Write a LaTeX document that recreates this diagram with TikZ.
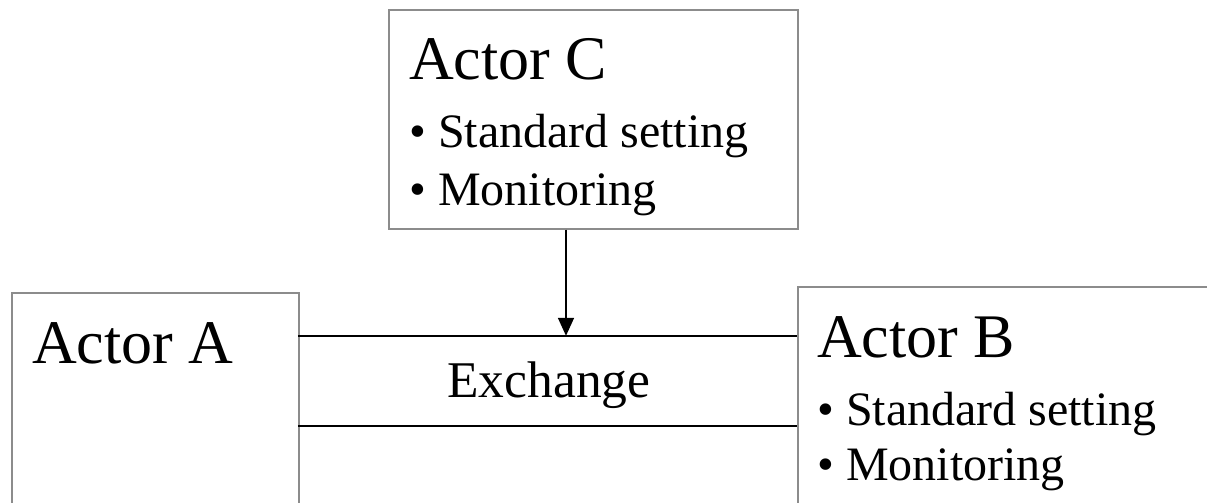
\documentclass[tikz,border=0pt]{standalone}
\usepackage{fontspec}
\setmainfont{Liberation Serif}
\usetikzlibrary{arrows.meta}
\tikzset{
  box/.style={draw=black!45, line width=1.6pt, rectangle, inner sep=0pt, anchor=north west},
  big/.style={anchor=base west, inner sep=0pt, font=\fontsize{62}{74}\selectfont},
  item/.style={anchor=base west, inner sep=0pt, font=\fontsize{48}{58}\selectfont},
  link/.style={line width=1.6pt, black},
}
\begin{document}
\begin{tikzpicture}[x=1pt,y=-1pt]
\useasboundingbox (0,0) rectangle (1207,503);
\fill[white] (0,0) rectangle (1207,503);
\clip (0,0) rectangle (1207,503);
% boxes
\node[box, minimum width=287pt, minimum height=280pt] (A) at (11,292) {};
\node[box, minimum width=460pt, minimum height=290pt] (B) at (797,286) {};
\node[box, minimum width=409pt, minimum height=219pt] (C) at (388,9) {};
% exchange
\node[inner sep=0pt, minimum width=499pt, minimum height=90pt] (X) at (547.5,381) {};
\node[anchor=base, inner sep=0pt, font=\fontsize{51.5}{62}\selectfont] (xt) at (549,397) {Exchange};
\draw[link] (X.north west) -- (X.north east);
\draw[link] (X.south west) -- (X.south east);
\coordinate (ax) at (566,0);
\draw[link, -{Triangle[length=18pt, width=16pt]}] (C.south -| ax) -- (X.north -| ax);
% texts
\node[big] (ta) at (32,363) {Actor A};
\node[big] (tc) at (409,80) {Actor C};
\node[item] (tc1) at (409,147) {\textbullet\ Standard setting};
\node[item] (tc2) at (409,205) {\textbullet\ Monitoring};
\node[big] (tb) at (817,357) {Actor B};
\node[item] (tb1) at (817,425) {\textbullet\ Standard setting};
\node[item] (tb2) at (817,480) {\textbullet\ Monitoring};
\end{tikzpicture}
\end{document}
